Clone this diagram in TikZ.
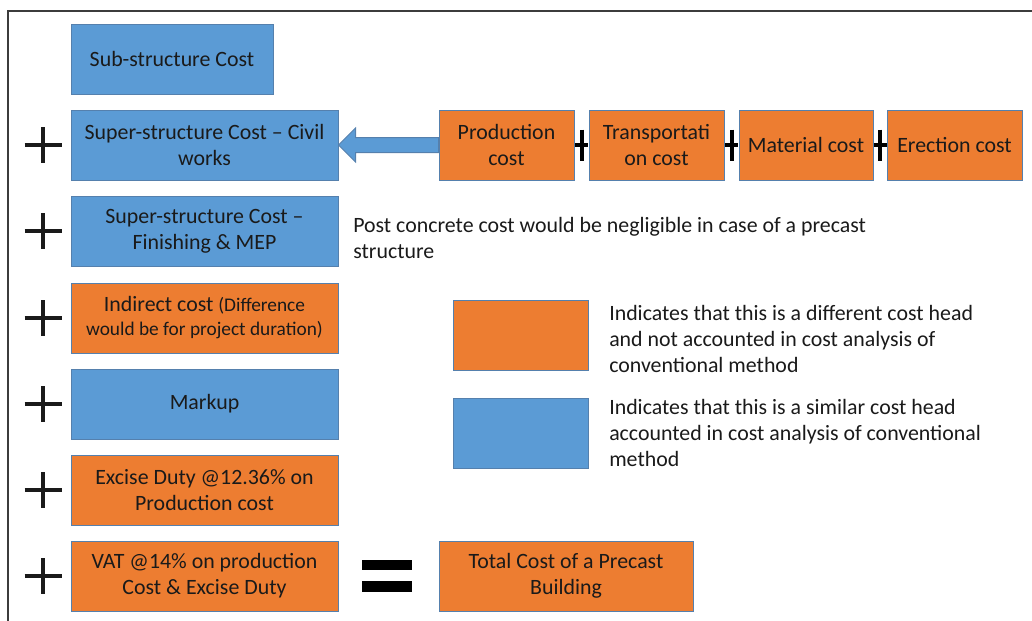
\documentclass[tikz,border=0pt]{standalone}
\usepackage{fontspec}
\setmainfont{Carlito}
\usetikzlibrary{calc}
\definecolor{boxblue}{HTML}{5B9BD5}
\definecolor{boxorange}{HTML}{ED7D31}
\definecolor{boxedge}{HTML}{5580AD}
\definecolor{ink}{HTML}{1A1A1A}
\definecolor{frame}{HTML}{3C3C3C}
\tikzset{
  sz/.style 2 args={minimum width=#1*0.75pt, minimum height=#2*0.75pt},
  costbox/.style={draw=boxedge, line width=0.75pt, inner sep=0pt, align=center,
    text=ink, font=\fontsize{16.4}{19.5}\selectfont},
  bluebox/.style={costbox, fill=boxblue},
  orangebox/.style={costbox, fill=boxorange},
  note/.style={inner sep=0pt, align=left, anchor=west, text=ink,
    font=\fontsize{16.4}{19.5}\selectfont},
  bigplus/.pic={\draw[ink, line width=3pt] (-18.5,0) -- (18.5,0) (0,-18) -- (0,18);},
  smallplus/.pic={\draw[black, line width=3pt] (-6.5,0) -- (6.5,0) (0,-15.5) -- (0,15.5);},
}
\begin{document}
\begin{tikzpicture}[x=0.75pt, y=-0.75pt]
\useasboundingbox (0,0) rectangle (1032,621);
% outer frame, running off the right and bottom edges
\begin{scope}
  \clip (0,0) rectangle (1032,621);
  \draw[frame, line width=1.5pt] (8,640) -- (8,11) -- (1050,11);
\end{scope}

% left column of cost heads
\node[bluebox, sz={202}{70}] (sub) at (172,59) {Sub-structure Cost};
\node[bluebox, sz={267}{70}] (civil) at (204.5,145) {Super-structure Cost -- Civil\\works};
\node[bluebox, sz={267}{70}] (finish) at (204.5,231) {Super-structure Cost --\\Finishing \& MEP};
\node[orangebox, sz={267}{70}, font=\fontsize{16.4}{18}\selectfont] (indirect) at (204.5,318)
  {Indirect cost {\fontsize{14.5}{18}\selectfont(Difference}\\{\fontsize{14.5}{18}\selectfont would be for project duration)}};
\node[bluebox, sz={267}{70}] (markup) at (204.5,404) {Markup};
\node[orangebox, sz={267}{70}] (excise) at (204.5,490) {Excise Duty @12.36\% on\\Production cost};
\node[orangebox, sz={267}{70}] (vat) at (204.5,576) {VAT @14\% on production\\Cost \& Excise Duty};

% plus signs in front of the summed heads
\foreach \y in {145,231,318,404,490,576} \pic at (43,\y) {bigplus};

% precast components making up the civil works cost
\node[orangebox, sz={135}{70}] (prod) at (506.5,145) {Production\\cost};
\node[orangebox, sz={135}{70}] (trans) at (656.5,145) {Transportati\\on cost};
\node[orangebox, sz={134}{70}] (mat) at (806,145) {Material cost};
\node[orangebox, sz={135}{70}] (erect) at (954.5,145) {Erection cost};
\pic at ($(prod.east)!0.5!(trans.west)$) {smallplus};
\pic at ($(trans.east)!0.5!(mat.west)$) {smallplus};
\pic at ($(mat.east)!0.5!(erect.west)$) {smallplus};

% block arrow from the components to the civil works head
\filldraw[fill=boxblue, draw=boxedge, line width=0.75pt]
  (civil.east) -- ++(17,-17) |- ($(prod.west)+(0,-7.5)$)
  -- ($(prod.west)+(0,7.5)$) -| ($(civil.east)+(17,17)$) -- cycle;

% result
\node[orangebox, sz={254}{70}] (total) at (566,576) {Total Cost of a Precast\\Building};
\coordinate (eq) at ($(vat.east)!0.48!(total.west)$);
\fill[black] ($(eq)+(-25,-16.5)$) rectangle ($(eq)+(25,-6)$);
\fill[black] ($(eq)+(-25,5)$) rectangle ($(eq)+(25,16)$);

% notes and legend
\node[note] (post) at (353,238) {Post concrete cost would be negligible in case of a precast\\structure};
\node[orangebox, sz={135}{70}] (keyorange) at (520.5,335) {};
\node[bluebox, sz={135}{70}] (keyblue) at (520.5,433) {};
\node[note] (keyorangetext) at (609,339) {Indicates that this is a different cost head\\and not accounted in cost analysis of\\conventional method};
\node[note] (keybluetext) at (609,432.5) {Indicates that this is a similar cost head\\accounted in cost analysis of conventional\\method};
\end{tikzpicture}
\end{document}
